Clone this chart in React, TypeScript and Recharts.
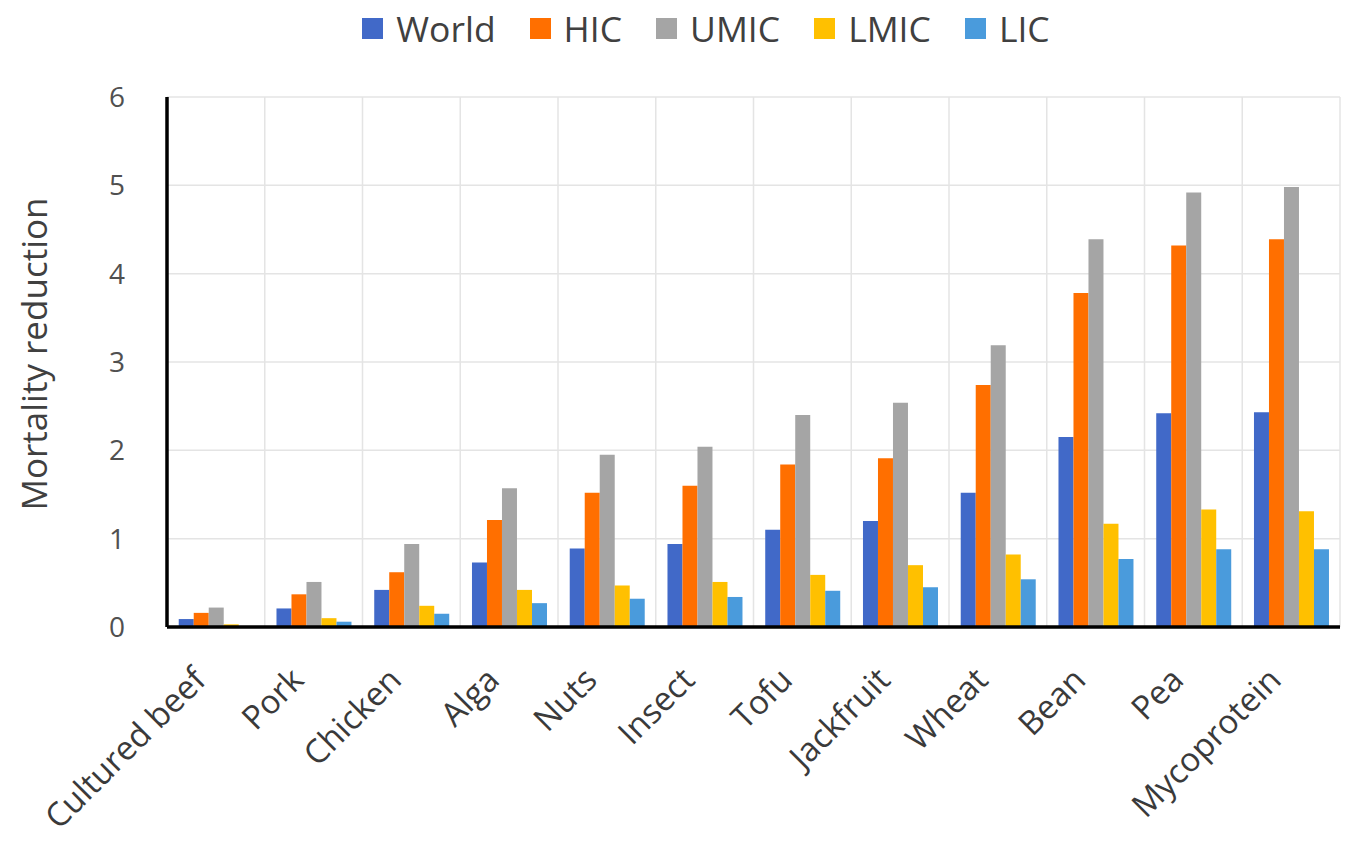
import { Bar, BarChart, CartesianGrid, Label, Legend, XAxis, YAxis } from "recharts"

const categories = [
  "Cultured beef",
  "Pork",
  "Chicken",
  "Alga",
  "Nuts",
  "Insect",
  "Tofu",
  "Jackfruit",
  "Wheat",
  "Bean",
  "Pea",
  "Mycoprotein",
]

const world = [0.09, 0.21, 0.42, 0.73, 0.89, 0.94, 1.1, 1.2, 1.52, 2.15, 2.42, 2.43]
const hic = [0.16, 0.37, 0.62, 1.21, 1.52, 1.6, 1.84, 1.91, 2.74, 3.78, 4.32, 4.39]
const umic = [0.22, 0.51, 0.94, 1.57, 1.95, 2.04, 2.4, 2.54, 3.19, 4.39, 4.92, 4.98]
const lmic = [0.03, 0.1, 0.24, 0.42, 0.47, 0.51, 0.59, 0.7, 0.82, 1.17, 1.33, 1.31]
const lic = [0.01, 0.06, 0.15, 0.27, 0.32, 0.34, 0.41, 0.45, 0.54, 0.77, 0.88, 0.88]

const yTicks = [0, 1, 2, 3, 4, 5, 6]

const series = [
  { key: "World", values: world, color: "#4169C8" },
  { key: "HIC", values: hic, color: "#FF6F00" },
  { key: "UMIC", values: umic, color: "#A5A5A5" },
  { key: "LMIC", values: lmic, color: "#FFC000" },
  { key: "LIC", values: lic, color: "#4A9BDC" },
]

const data = categories.map((name, i) => {
  const row: Record<string, string | number> = { name }
  series.forEach((s) => {
    row[s.key] = s.values[i]
  })
  return row
})

const FONT = "'Open Sans', 'DejaVu Sans', sans-serif"

function LegendContent() {
  return (
    <div
      style={{
        display: "flex",
        justifyContent: "center",
        alignItems: "flex-start",
        height: 87,
        paddingLeft: 106,
        fontFamily: FONT,
        fontSize: 35.5,
        color: "#404040",
      }}
    >
      {series.map((s) => (
        <div key={s.key} style={{ display: "flex", alignItems: "center", height: 36, marginRight: 34 }}>
          <span style={{ display: "inline-block", width: 21, height: 21, background: s.color, marginRight: 13 }} />
          <span style={{ lineHeight: "36px" }}>{s.key}</span>
        </div>
      ))}
    </div>
  )
}

function XTick({ x, y, payload }: any) {
  return (
    <g transform={`translate(${x - 8},${y + 55})`}>
      <text
        x={0}
        y={0}
        textAnchor="end"
        transform="rotate(-45)"
        fontFamily={FONT}
        fontSize={33}
        fill="#3a3a3a"
      >
        {payload.value}
      </text>
    </g>
  )
}

export default function App() {
  return (
    <div style={{ position: "absolute", left: 0, top: 0, width: 1355, height: 842, background: "#fff" }}>
      <BarChart
        width={1355}
        height={842}
        data={data}
        margin={{ top: 10, right: 15, left: 0, bottom: 0 }}
        barCategoryGap="12%"
        barGap={0}
      >
        <CartesianGrid
          stroke="#e4e4e4"
          strokeWidth={1.5}
          verticalCoordinatesGenerator={({ offset }: any) =>
            categories.map((_, i) => offset.left + ((i + 1) * offset.width) / categories.length)
          }
        />
        <XAxis
          dataKey="name"
          height={215}
          interval={0}
          tickLine={false}
          tickSize={0}
          tickMargin={0}
          axisLine={{ stroke: "#000", strokeWidth: 3.5 }}
          tick={<XTick />}
        />
        <YAxis
          width={167}
          domain={[0, 6]}
          ticks={yTicks}
          tickLine={false}
          tickSize={0}
          tickMargin={42}
          axisLine={{ stroke: "#000", strokeWidth: 3.5 }}
          tick={{ fontFamily: FONT, fontSize: 28, fill: "#505050" }}
        >
          <Label
            content={({ viewBox }: any) => {
              const cx = viewBox.x + 38
              const cy = viewBox.y + viewBox.height / 2 - 8
              return (
                <text
                  x={cx}
                  y={cy}
                  textAnchor="middle"
                  dominantBaseline="middle"
                  transform={`rotate(-90, ${cx}, ${cy})`}
                  fontFamily={FONT}
                  fontSize={35}
                  fill="#404040"
                >
                  Mortality reduction
                </text>
              )
            }}
          />
        </YAxis>
        <Legend verticalAlign="top" align="center" content={<LegendContent />} />
        {series.map((s) => (
          <Bar key={s.key} dataKey={s.key} fill={s.color} isAnimationActive={false} />
        ))}
      </BarChart>
    </div>
  )
}
